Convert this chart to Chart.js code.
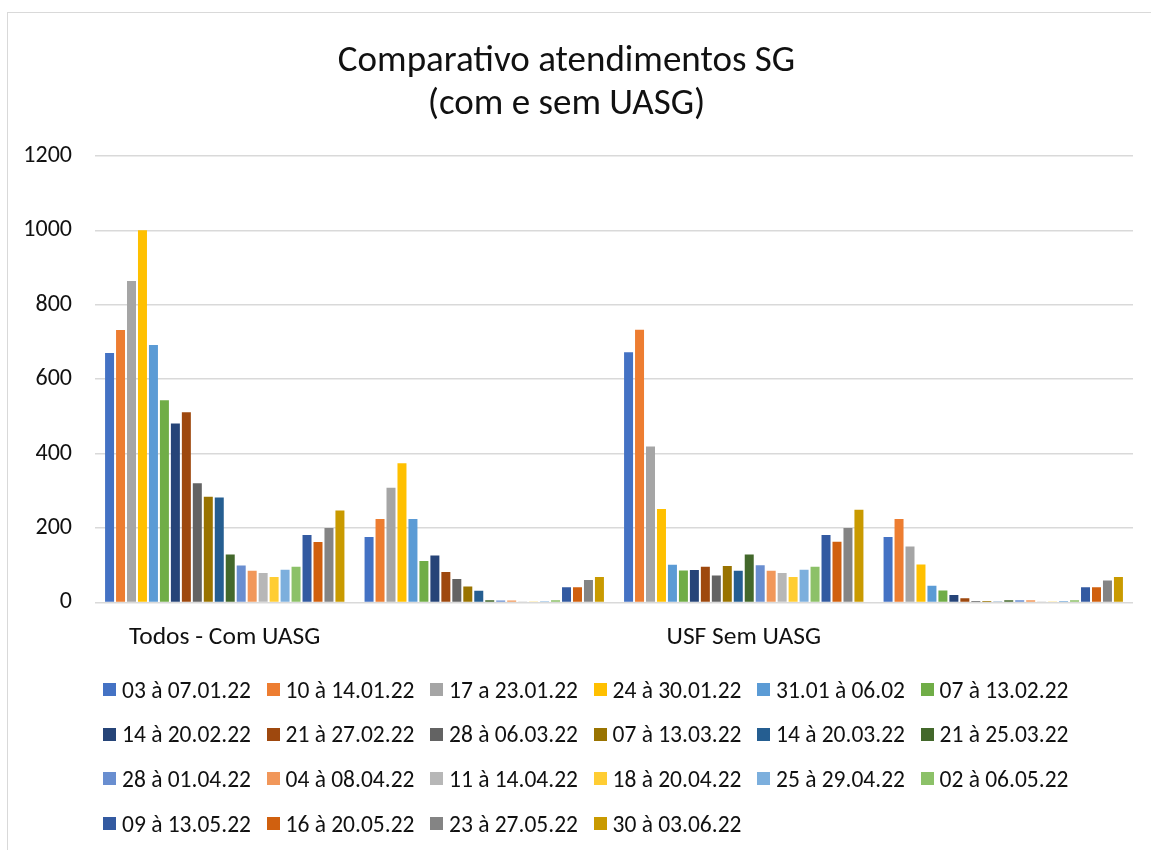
<!DOCTYPE html>
<html>
<head>
<meta charset="utf-8">
<script src="https://cdn.jsdelivr.net/npm/chart.js@4/dist/chart.umd.min.js"></script>
<style>
    html, body { margin: 0; padding: 0; background: #fff; }
    #wrap { position: relative; width: 1151px; height: 850px; overflow: hidden; }
    #frame { position: absolute; left: 7px; top: 12px; width: 1200px; height: 900px; border: 1.5px solid #d9d9d9; box-sizing: border-box; }
    #chart_canvas { position: absolute; left: 0; top: 0; }
    #legend { position: absolute; left: 103px; top: 676px; display: grid; grid-template-columns: repeat(6, 163.5px); grid-auto-rows: 44.7px; font-family: Carlito, Calibri, Lato, sans-serif; font-size: 23.5px; color: #111; }
    .item { display: flex; align-items: center; height: 27px; white-space: nowrap; }
    .box { width: 13px; height: 13px; margin-right: 6px; flex: none; }
</style>
</head>
<body>
<div id="wrap">
    <div id="frame"></div>
    <canvas id="chart_canvas" width="1151" height="850"></canvas>
    <div id="legend"></div>
</div>
<script>
const FONT = 'Carlito, Calibri, Lato, sans-serif';

const categories = ['Todos - Com UASG', '', 'USF Sem UASG', ''];
const y_ticks = [0, 200, 400, 600, 800, 1000, 1200];

const series_names = [
    '03 à 07.01.22', '10 à 14.01.22', '17 a 23.01.22', '24 à 30.01.22', '31.01 à 06.02', '07 à 13.02.22',
    '14 à 20.02.22', '21 à 27.02.22', '28 à 06.03.22', '07 à 13.03.22', '14 à 20.03.22', '21 à 25.03.22',
    '28 à 01.04.22', '04 à 08.04.22', '11 à 14.04.22', '18 à 20.04.22', '25 à 29.04.22', '02 à 06.05.22',
    '09 à 13.05.22', '16 à 20.05.22', '23 à 27.05.22', '30 à 03.06.22'
];
const series_colors = [
    '#4472C4', '#ED7D31', '#A5A5A5', '#FFC000', '#5B9BD5', '#70AD47',
    '#264478', '#9E480E', '#636363', '#997300', '#255E91', '#43682B',
    '#698ED0', '#F1975A', '#B7B7B7', '#FFCD33', '#7CAFDD', '#8CC168',
    '#335AA1', '#D0600F', '#848484', '#C99A00'
];

// valores por categoria, um por semana (na ordem das series)
const todos_com_uasg = [670, 732, 864, 1000, 692, 543, 481, 511, 320, 284, 282, 129, 99, 85, 79, 68, 88, 96, 181, 162, 200, 247];
const todos_sem_nome = [176, 224, 308, 374, 224, 111, 126, 82, 63, 43, 31, 6, 5, 5, 1, 1, 3, 6, 41, 41, 60, 68];
const usf_sem_uasg = [672, 733, 419, 251, 101, 86, 87, 96, 72, 98, 85, 129, 100, 85, 79, 68, 88, 96, 181, 163, 200, 249];
const usf_sem_nome = [176, 224, 150, 102, 45, 32, 20, 11, 4, 4, 1, 6, 6, 6, 1, 1, 4, 6, 41, 41, 59, 68];

const groups = [todos_com_uasg, todos_sem_nome, usf_sem_uasg, usf_sem_nome];

function build_datasets() {
    var datasets = [];
    for (let i = 0; i < series_names.length; i++) {
        datasets.push({
            label: series_names[i],
            data: groups.map(g => g[i]),
            backgroundColor: series_colors[i],
            borderWidth: 0,
            barPercentage: 0.82,
            categoryPercentage: 0.93
        });
    }
    return datasets;
}

function render_legend() {
    const legend = document.getElementById('legend');
    for (let i = 0; i < series_names.length; i++) {
        var item = document.createElement('div');
        item.className = 'item';
        var box = document.createElement('span');
        box.className = 'box';
        box.style.background = series_colors[i];
        var txt = document.createElement('span');
        txt.textContent = series_names[i];
        item.appendChild(box);
        item.appendChild(txt);
        legend.appendChild(item);
    }
}

const ctx = document.getElementById('chart_canvas').getContext('2d');
const chart = new Chart(ctx, {
    type: 'bar',
    data: {
        labels: categories,
        datasets: build_datasets()
    },
    options: {
        responsive: false,
        animation: false,
        devicePixelRatio: 1,
        layout: {
            padding: { left: 0, right: 18, top: 0, bottom: 185 }
        },
        plugins: {
            legend: { display: false },
            tooltip: { enabled: false },
            title: {
                display: true,
                text: ['Comparativo atendimentos SG', '(com e sem UASG)'],
                color: '#111',
                font: { family: FONT, size: 37, weight: 'normal', lineHeight: 1.16 },
                padding: { top: 40, bottom: 30 }
            }
        },
        scales: {
            x: {
                grid: { display: false },
                border: { display: false },
                ticks: {
                    color: '#111',
                    font: { family: FONT, size: 25.5 },
                    padding: 12,
                    maxRotation: 0,
                    autoSkip: false
                }
            },
            y: {
                min: 0,
                max: 1200,
                afterFit: (scale) => { scale.width = 95; },
                afterBuildTicks: (scale) => { scale.ticks = y_ticks.map(v => ({ value: v })); },
                grid: { color: '#d9d9d9', lineWidth: 1.5, drawTicks: false },
                border: { display: false },
                ticks: {
                    color: '#111',
                    font: { family: FONT, size: 24 },
                    padding: 23,
                    callback: (value) => String(value)
                }
            }
        }
    }
});

render_legend();
</script>
</body>
</html>
